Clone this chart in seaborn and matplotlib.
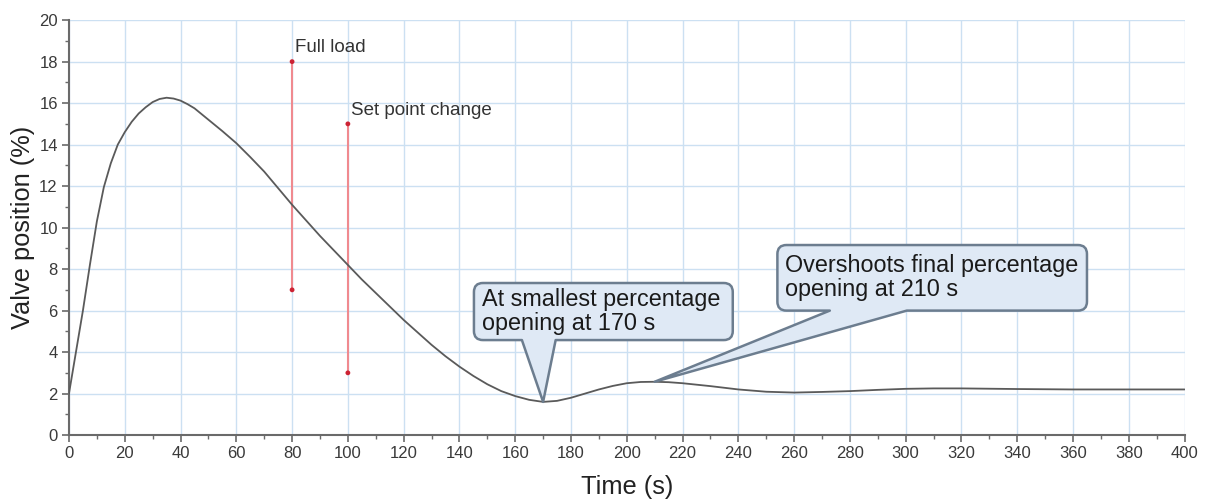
import matplotlib
matplotlib.use("Agg")
import matplotlib.pyplot as plt
from matplotlib.path import Path
from matplotlib.patches import PathPatch
from matplotlib.ticker import MultipleLocator
import pandas as pd
import seaborn as sns

# Valve response after the load / set point disturbance
time_s = [0, 2.5, 5, 7.5, 10, 12.5, 15, 17.5, 20, 22.5, 25, 27.5, 30, 32.5, 35,
          37.5, 40, 42.5, 45, 50, 55, 60, 65, 70, 75, 80, 85, 90, 95, 100, 105,
          110, 115, 120, 125, 130, 135, 140, 145, 150, 155, 160, 165, 170, 175,
          180, 185, 190, 195, 200, 205, 210, 215, 220, 230, 240, 250, 260, 270,
          280, 290, 300, 310, 320, 340, 360, 380, 400]
valve_pct = [2.0, 4.0, 6.0, 8.2, 10.3, 11.95, 13.1, 14.0, 14.6, 15.1, 15.5, 15.8,
             16.05, 16.2, 16.26, 16.22, 16.12, 15.95, 15.75, 15.2, 14.65, 14.07,
             13.4, 12.7, 11.9, 11.1, 10.35, 9.6, 8.9, 8.2, 7.5, 6.85, 6.2, 5.55,
             4.95, 4.35, 3.8, 3.3, 2.85, 2.45, 2.12, 1.88, 1.7, 1.6, 1.65, 1.8,
             2.0, 2.2, 2.37, 2.5, 2.56, 2.57, 2.55, 2.5, 2.36, 2.2, 2.09, 2.05,
             2.08, 2.12, 2.18, 2.23, 2.25, 2.25, 2.22, 2.2, 2.2, 2.2]

# Event markers: time, low end, high end, label
event_time = [80, 100]
event_low = [7, 3]
event_high = [18, 15]
event_label = ["Full load", "Set point change"]

# Callouts: text and the point they refer to
callout_text = ["At smallest percentage\nopening at 170 s",
                "Overshoots final percentage\nopening at 210 s"]
callout_tip = [(170, 1.6), (210, 2.57)]

x_ticks = list(range(0, 401, 20))
y_ticks = list(range(0, 21, 2))

sns.set_theme(style="white")
plt.rcParams["font.family"] = ["Liberation Sans", "DejaVu Sans"]

fig = plt.figure(figsize=(12.1, 5.03), dpi=100)
fig.subplots_adjust(left=0.057, right=0.979, bottom=0.135, top=0.960)
ax = fig.add_subplot(111)

df = pd.DataFrame({"Time (s)": time_s, "Valve position (%)": valve_pct})
sns.lineplot(data=df, x="Time (s)", y="Valve position (%)", ax=ax,
             color="#5a5a5a", linewidth=1.3, zorder=3)

ax.set_xlim(0, 400)
ax.set_ylim(0, 20)
ax.set_xticks(x_ticks)
ax.set_yticks(y_ticks)
ax.xaxis.set_minor_locator(MultipleLocator(10))
ax.yaxis.set_minor_locator(MultipleLocator(1))
ax.grid(True, which="major", color="#cce0f2", linewidth=1.0)
ax.set_axisbelow(True)
for side in ("top", "right"):
    ax.spines[side].set_visible(False)
for side in ("left", "bottom"):
    ax.spines[side].set_color("#6a6a6a")
    ax.spines[side].set_linewidth(1.5)
ax.tick_params(which="major", direction="out", length=5, width=1.2,
               color="#6a6a6a", labelsize=12, labelcolor="#3a3a3a",
               bottom=True, left=True, pad=3)
ax.tick_params(which="minor", direction="out", length=3, width=1.0,
               color="#6a6a6a", bottom=True, left=True)

# Event bars
for t, lo, hi, lab in zip(event_time, event_low, event_high, event_label):
    ax.plot([t, t], [lo, hi], color="#f08a8f", linewidth=1.5, zorder=2)
    ax.text(t + 1, hi + 0.25, lab, fontsize=13.5, color="#333333",
            ha="left", va="bottom")
ev = pd.DataFrame({"t": event_time * 2, "v": event_low + event_high})
sns.scatterplot(data=ev, x="t", y="v", ax=ax, color="#cc2233", s=12,
                edgecolor="none", zorder=4)
ax.set_xlabel("Time (s)", fontsize=18.3, color="#222222", labelpad=10)
ax.set_ylabel("Valve position (%)", fontsize=18.3, color="#222222", labelpad=3)

# Rounded speech-bubble callouts
fig.canvas.draw()
p0 = ax.transData.transform((0, 0))
p1 = ax.transData.transform((400, 20))
px_x = (p1[0] - p0[0]) / 400.0
px_y = (p1[1] - p0[1]) / 20.0


def bubble(x0, x1, y0, y1, b0, b1, tip, r_px=9):
    rx, ry = r_px / px_x, r_px / px_y
    verts = [(x0 + rx, y0), (b0, y0), tip, (b1, y0), (x1 - rx, y0),
             (x1, y0), (x1, y0 + ry), (x1, y1 - ry),
             (x1, y1), (x1 - rx, y1), (x0 + rx, y1),
             (x0, y1), (x0, y1 - ry), (x0, y0 + ry),
             (x0, y0), (x0 + rx, y0), (x0 + rx, y0)]
    codes = [Path.MOVETO, Path.LINETO, Path.LINETO, Path.LINETO, Path.LINETO,
             Path.CURVE3, Path.CURVE3, Path.LINETO,
             Path.CURVE3, Path.CURVE3, Path.LINETO,
             Path.CURVE3, Path.CURVE3, Path.LINETO,
             Path.CURVE3, Path.CURVE3, Path.CLOSEPOLY]
    patch = PathPatch(Path(verts, codes), facecolor="#dfe9f5",
                      edgecolor="#6c7d8f", linewidth=1.8, zorder=5,
                      joinstyle="round")
    ax.add_patch(patch)


boxes = [(145.2, 238.0, 4.58, 7.33, 162.4, 174.5),
         (254.0, 365.0, 6.0, 9.16, 272.8, 300.4)]
for (x0, x1, y0, y1, b0, b1), txt, tip in zip(boxes, callout_text, callout_tip):
    bubble(x0, x1, y0, y1, b0, b1, tip)
    ax.text(x0 + 2.8, (y0 + y1) / 2, txt, fontsize=16.8, color="#1a1a1a",
            ha="left", va="center", linespacing=1.05, zorder=6)

fig.savefig("out.png", dpi=100)
